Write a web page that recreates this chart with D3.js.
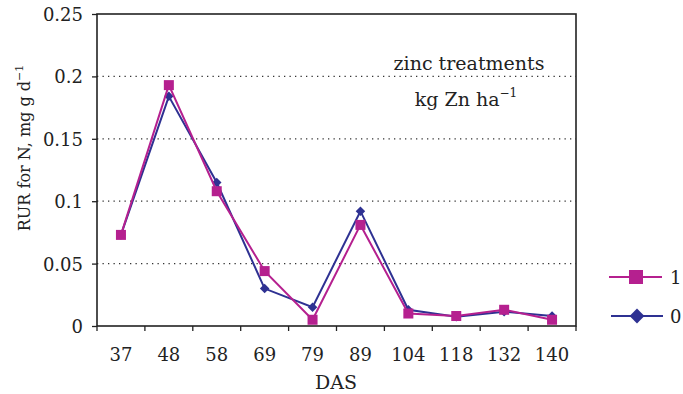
<!DOCTYPE html>
<html>
<head>
<meta charset="utf-8">
<script src="https://cdn.jsdelivr.net/npm/d3@7"></script>
<style>
body { margin: 0; background: #fff; }
text { font-family: "DejaVu Serif", "Liberation Serif", serif; fill: #222; }
</style>
</head>
<body>
<div class="container"></div>
<script>
var days = ["37", "48", "58", "69", "79", "89", "104", "118", "132", "140"];
var zinc1 = [0.073, 0.193, 0.108, 0.044, 0.005, 0.081, 0.010, 0.008, 0.013, 0.005];
var zinc0 = [0.073, 0.184, 0.115, 0.030, 0.015, 0.092, 0.013, 0.0075, 0.0115, 0.008];
var yTicks = [0, 0.05, 0.1, 0.15, 0.2, 0.25];
var yTickLabels = ["0", "0.05", "0.1", "0.15", "0.2", "0.25"];

var width = 683, height = 394;
var plotLeft = 97, plotTop = 14, plotRight = 576, plotBottom = 326;

var svg = d3.select(".container").append("svg")
    .attr("width", width)
    .attr("height", height);

var x = d3.scaleBand().domain(days).range([plotLeft, plotRight]);
var y = d3.scaleLinear().domain([0, 0.25]).range([plotBottom, plotTop]);

// dotted gridlines
svg.selectAll("line.grid")
    .data(yTicks.slice(1, 5))
    .enter().append("line")
    .attr("class", "grid")
    .attr("x1", plotLeft).attr("x2", plotRight)
    .attr("y1", d => y(d)).attr("y2", d => y(d))
    .style("stroke", "#333")
    .style("stroke-width", 1.3)
    .style("stroke-dasharray", "1.3,4.2");

// frame
svg.append("rect")
    .attr("x", plotLeft).attr("y", plotTop)
    .attr("width", plotRight - plotLeft).attr("height", plotBottom - plotTop)
    .style("fill", "none")
    .style("stroke", "#222")
    .style("stroke-width", 1.6);

// y axis
var yAxis = d3.axisLeft(y).tickValues(yTicks)
    .tickFormat((d, i) => yTickLabels[i]).tickSize(5).tickPadding(9);
var gy = svg.append("g").attr("transform", "translate(" + plotLeft + ",0)").call(yAxis);
gy.select(".domain").remove();
gy.selectAll("line").style("stroke", "#222").style("stroke-width", 1.3);
gy.selectAll("text").attr("dy", "0.36em").style("font-size", "18px").style("font-family", "DejaVu Serif").style("fill", "#222");

// x axis: ticks at band edges
var gx = svg.append("g").attr("transform", "translate(0," + plotBottom + ")");
var edges = days.map(d => x(d)).concat([plotRight]);
gx.selectAll("line").data(edges).enter().append("line")
    .attr("x1", d => d).attr("x2", d => d)
    .attr("y1", 0).attr("y2", 5)
    .style("stroke", "#222").style("stroke-width", 1.3);
gx.selectAll("text").data(days).enter().append("text")
    .attr("x", d => x(d) + x.bandwidth() / 2)
    .attr("y", 35)
    .attr("text-anchor", "middle")
    .style("font-size", "18px")
    .text(d => d);

// axis titles
svg.append("text")
    .attr("x", 336).attr("y", 389)
    .attr("text-anchor", "middle")
    .style("font-size", "19px")
    .text("DAS");

var ylab = svg.append("text")
    .attr("transform", "translate(30,148) rotate(-90)")
    .attr("text-anchor", "middle")
    .style("font-size", "16px");
ylab.append("tspan").text("RUR for N, mg g d");
ylab.append("tspan").attr("dy", -7).style("font-size", "11px").text("\u22121");

// annotation
svg.append("text")
    .attr("x", 469).attr("y", 70)
    .attr("text-anchor", "middle")
    .style("font-size", "19px")
    .text("zinc treatments");
var ann = svg.append("text")
    .attr("x", 466).attr("y", 106)
    .attr("text-anchor", "middle")
    .style("font-size", "19px");
ann.append("tspan").text("kg Zn ha");
ann.append("tspan").attr("dy", -9).style("font-size", "12px").text("\u22121");

var line = d3.line()
    .x((d, i) => x(days[i]) + x.bandwidth() / 2)
    .y(d => y(d));

var navy = "#2e3192", magenta = "#b5208f";

// series 0 (navy, diamonds)
svg.append("path").datum(zinc0)
    .attr("d", line)
    .style("fill", "none").style("stroke", navy).style("stroke-width", 2);
svg.selectAll("path.dia").data(zinc0).enter().append("path")
    .attr("class", "dia")
    .attr("d", d3.symbol().type(d3.symbolSquare).size(45))
    .attr("transform", (d, i) => "translate(" + (x(days[i]) + x.bandwidth() / 2) + "," + y(d) + ") rotate(45)")
    .style("fill", navy);

// series 1 (magenta, squares)
svg.append("path").datum(zinc1)
    .attr("d", line)
    .style("fill", "none").style("stroke", magenta).style("stroke-width", 2);
svg.selectAll("rect.sq").data(zinc1).enter().append("rect")
    .attr("class", "sq")
    .attr("x", (d, i) => x(days[i]) + x.bandwidth() / 2 - 5)
    .attr("y", d => y(d) - 5)
    .attr("width", 10).attr("height", 10)
    .style("fill", magenta);

// legend
var legend = svg.append("g");
legend.append("line").attr("x1", 609).attr("x2", 662).attr("y1", 277).attr("y2", 277)
    .style("stroke", magenta).style("stroke-width", 2);
legend.append("rect").attr("x", 629).attr("y", 270).attr("width", 14).attr("height", 14)
    .style("fill", magenta);
legend.append("text").attr("x", 670).attr("y", 284).style("font-size", "18px").text("1");
legend.append("line").attr("x1", 611).attr("x2", 663).attr("y1", 316).attr("y2", 316)
    .style("stroke", navy).style("stroke-width", 2);
legend.append("path")
    .attr("d", d3.symbol().type(d3.symbolSquare).size(110))
    .attr("transform", "translate(637,316) rotate(45)")
    .style("fill", navy);
legend.append("text").attr("x", 670).attr("y", 323).style("font-size", "18px").text("0");
</script>
</body>
</html>
